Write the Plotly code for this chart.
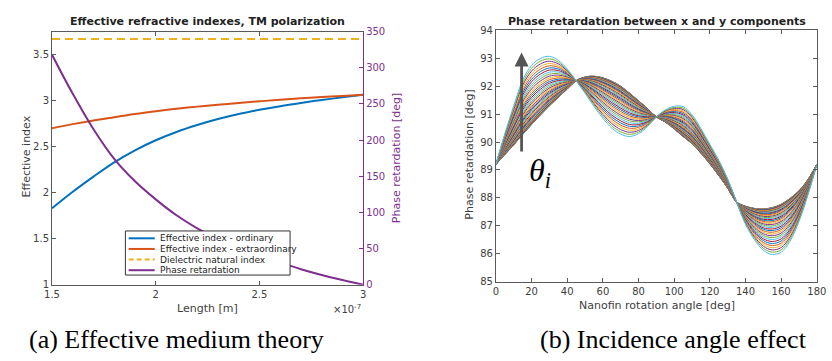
import plotly.graph_objects as go

# ---------------- Panel (a): effective medium theory ----------------
length_m = [1.5e-7, 1.6e-7, 1.7e-7, 1.8e-7, 1.9e-7, 2.0e-7, 2.1e-7, 2.2e-7,
            2.3e-7, 2.4e-7, 2.5e-7, 2.6e-7, 2.7e-7, 2.8e-7, 2.9e-7, 3.0e-7]
n_ordinary = [1.83, 2.01, 2.175, 2.33, 2.46, 2.57, 2.66, 2.735,
              2.80, 2.855, 2.90, 2.94, 2.975, 3.007, 3.036, 3.063]
n_extraordinary = [2.70, 2.745, 2.785, 2.82, 2.855, 2.885, 2.912, 2.935,
                   2.955, 2.975, 2.993, 3.01, 3.025, 3.039, 3.051, 3.063]
n_dielectric = 3.67
phase_retardation_deg = [318, 264, 215, 174, 143, 118, 96, 78,
                         63, 51, 40, 30.5, 21.5, 13.5, 6.5, 0]
length_ticks = [1.5e-7, 2.0e-7, 2.5e-7, 3.0e-7]
length_tick_text = ["1.5", "2", "2.5", "3"]

legend_names = ["Effective index - ordinary", "Effective index - extraordinary",
                "Dielectric natural index", "Phase retardation"]

# ---------------- Panel (b): incidence angle effect ----------------
rotation_angle_deg = [0, 5, 10, 15, 20, 25, 30, 35, 40, 45, 50, 55, 60, 65, 70, 75, 80, 85, 90,
                      95, 100, 105, 110, 115, 120, 125, 130, 135, 140, 145, 150, 155, 160,
                      165, 170, 175, 180]
# curve at normal incidence (innermost, dark band)
phase_normal = [89.2, 89.55, 89.9, 90.27, 90.63, 90.97, 91.3, 91.6, 91.9, 92.2,
                92.33, 92.36, 92.3, 92.18, 92.0, 91.75, 91.48, 91.2, 90.9,
                90.72, 90.47, 90.2, 89.94, 89.6, 89.22, 88.8, 88.35, 87.85,
                87.7, 87.62, 87.6, 87.65, 87.77, 87.98, 88.25, 88.65, 89.2]
# curve at the largest incidence angle (outermost, cyan)
phase_max_incidence = [89.2, 90.3, 91.3, 92.22, 92.75, 93.0, 93.07, 92.93, 92.62, 92.2,
                       91.75, 91.28, 90.85, 90.5, 90.28, 90.2, 90.3, 90.55, 90.9,
                       91.15, 91.28, 91.27, 90.98, 90.48, 89.92, 89.35, 88.68, 87.85,
                       87.05, 86.5, 86.12, 85.97, 86.05, 86.45, 87.15, 88.1, 89.2]
spread_fraction = [0.0, 0.0006, 0.0025, 0.0056, 0.01, 0.0156, 0.0225, 0.0306, 0.04, 0.0506,
                   0.0625, 0.0756, 0.09, 0.1056, 0.1225, 0.1406, 0.16, 0.1806, 0.2025, 0.2256,
                   0.25, 0.2756, 0.3025, 0.3306, 0.36, 0.3906, 0.4225, 0.4556, 0.49, 0.5256,
                   0.5625, 0.6006, 0.64, 0.6806, 0.7225, 0.7656, 0.81, 0.8556, 0.9025, 0.9506, 1.0]

MATLAB_COLORS = ["#0072BD", "#D95319", "#EDB120", "#7E2F8E", "#77AC30", "#4DBEEE", "#A2142F"]
PURPLE = "#7E2F8E"
AXIS = "#5a5a5a"
TXT = "#404040"
FONT = "DejaVu Sans"

W, H = 832, 361
def px(x):
    return x / W
def py(y):
    return 1 - y / H

fig = go.Figure()

# ---- panel (a) traces ----
fig.add_trace(go.Scatter(x=length_m, y=n_ordinary, mode="lines", name=legend_names[0],
                         line=dict(color=MATLAB_COLORS[0], width=2, shape="spline"),
                         xaxis="x", yaxis="y"))
fig.add_trace(go.Scatter(x=length_m, y=n_extraordinary, mode="lines", name=legend_names[1],
                         line=dict(color=MATLAB_COLORS[1], width=2, shape="spline"),
                         xaxis="x", yaxis="y"))
fig.add_trace(go.Scatter(x=length_m, y=[n_dielectric] * len(length_m), mode="lines",
                         name=legend_names[2],
                         line=dict(color=MATLAB_COLORS[2], width=2, dash="8px,5px"),
                         xaxis="x", yaxis="y"))
fig.add_trace(go.Scatter(x=length_m, y=phase_retardation_deg, mode="lines", name=legend_names[3],
                         line=dict(color=PURPLE, width=2, shape="spline"),
                         xaxis="x", yaxis="y2"))

# ---- panel (b) traces ----
for k, f in enumerate(spread_fraction):
    yk = [a + f * (b - a) for a, b in zip(phase_normal, phase_max_incidence)]
    fig.add_trace(go.Scatter(x=rotation_angle_deg, y=yk, mode="lines",
                             line=dict(color=MATLAB_COLORS[k % 7], width=1, shape="spline"),
                             xaxis="x2", yaxis="y3", showlegend=False))

axis_common = dict(showline=True, linecolor=AXIS, linewidth=1, ticks="inside", ticklen=4,
                   tickcolor=AXIS, tickwidth=1, showgrid=False, zeroline=False,
                   ticklabeloverflow="allow",
                   tickfont=dict(family=FONT, size=10, color=TXT))

fig.update_layout(
    width=W, height=H, margin=dict(l=0, r=0, t=0, b=0),
    paper_bgcolor="white", plot_bgcolor="white", showlegend=False,
    font=dict(family=FONT, color=TXT),
    xaxis=dict(domain=[px(45), px(363)], range=[1.5e-7, 3.0e-7], anchor="y",
               tickvals=length_ticks, ticktext=length_tick_text, mirror="ticks", **axis_common),
    yaxis=dict(domain=[py(288.3), py(26.5)], range=[1, 3.75], anchor="x",
               tickvals=[1, 1.5, 2, 2.5, 3, 3.5], ticktext=["1", "1.5", "2", "2.5", "3", "3.5"],
               **axis_common),
    yaxis2=dict(overlaying="y", side="right", anchor="x", range=[0, 350],
                tickvals=[0, 50, 100, 150, 200, 250, 300, 350],
                showline=True, linecolor=PURPLE, linewidth=1, ticks="inside", ticklen=4,
                tickcolor=PURPLE, showgrid=False, zeroline=False,
                tickfont=dict(family=FONT, size=10, color=PURPLE)),
    xaxis2=dict(domain=[px(498.7), px(826.7)], range=[0, 180], anchor="y3",
                tickvals=list(range(0, 181, 20)), mirror="ticks", **axis_common),
    yaxis3=dict(domain=[py(285), py(25.3)], range=[85, 94], anchor="x2",
                tickvals=list(range(85, 95)), mirror="ticks", **axis_common),
)

ann = []
def text(x, y, s, size, color=TXT, family=FONT, angle=0, xanchor="center", bold=False):
    ann.append(dict(xref="paper", yref="paper", x=px(x), y=py(y), text=("<b>%s</b>" % s) if bold else s,
                    showarrow=False, xanchor=xanchor, yanchor="middle", textangle=angle,
                    font=dict(family=family, size=size, color=color)))

# titles and labels
text(204, 16.5, "Effective refractive indexes, TM polarization", 11, color="#222", bold=True)
text(663, 16, "Phase retardation between x and y components", 11, color="#222", bold=True)
text(19, 156, "Effective index", 11, angle=-90)
text(397, 157, "Phase retardation [deg]", 11, color=PURPLE, angle=-90)
text(204, 312.5, "Length [m]", 11)
text(363, 313, "×10<sup>-7</sup>", 10, xanchor="right")
text(472, 154, "Phase retardation [deg]", 11, angle=-90)
text(663, 310, "Nanofin rotation angle [deg]", 11)
# captions
text(172, 345, "(a) Effective medium theory", 26, color="black", family="Liberation Serif")
text(680, 345, "(b) Incidence angle effect", 26, color="black", family="Liberation Serif")
# theta_i label
text(544, 172, "<i>θ</i><sub><i>i</i></sub>", 32, color="black", family="Liberation Serif")

# arrow showing increasing incidence angle
ann.append(dict(xref="x2", yref="y3", x=14.4, y=93.21, axref="x2", ayref="y3", ax=14.4, ay=89.61,
                text="", showarrow=True, arrowhead=2, arrowsize=1.0, arrowwidth=2.8,
                arrowcolor="#555555"))

# manual legend (panel a)
shapes = [dict(type="rect", xref="paper", yref="paper", x0=px(120), x1=px(288.3),
               y0=py(278.3), y1=py(232.7), fillcolor="white", line=dict(color="#333", width=1),
               layer="above")]
legend_styles = [(MATLAB_COLORS[0], "solid"), (MATLAB_COLORS[1], "solid"),
                 (MATLAB_COLORS[2], "dash"), (PURPLE, "solid")]
for i, (name, (col, dash)) in enumerate(zip(legend_names, legend_styles)):
    yy = 240.3 + i * 11.0
    shapes.append(dict(type="line", xref="paper", yref="paper", x0=px(123.3), x1=px(150),
                       y0=py(yy), y1=py(yy), line=dict(color=col, width=2,
                                                       dash="5px,3px" if dash == "dash" else "solid"),
                       layer="above"))
    text(153.3, yy, name, 9, color="#222", xanchor="left")

fig.update_layout(annotations=ann, shapes=shapes)
fig.write_html("out.html", config={"displayModeBar": False},
               post_script="document.body.style.margin='0';document.body.style.overflow='hidden';")
